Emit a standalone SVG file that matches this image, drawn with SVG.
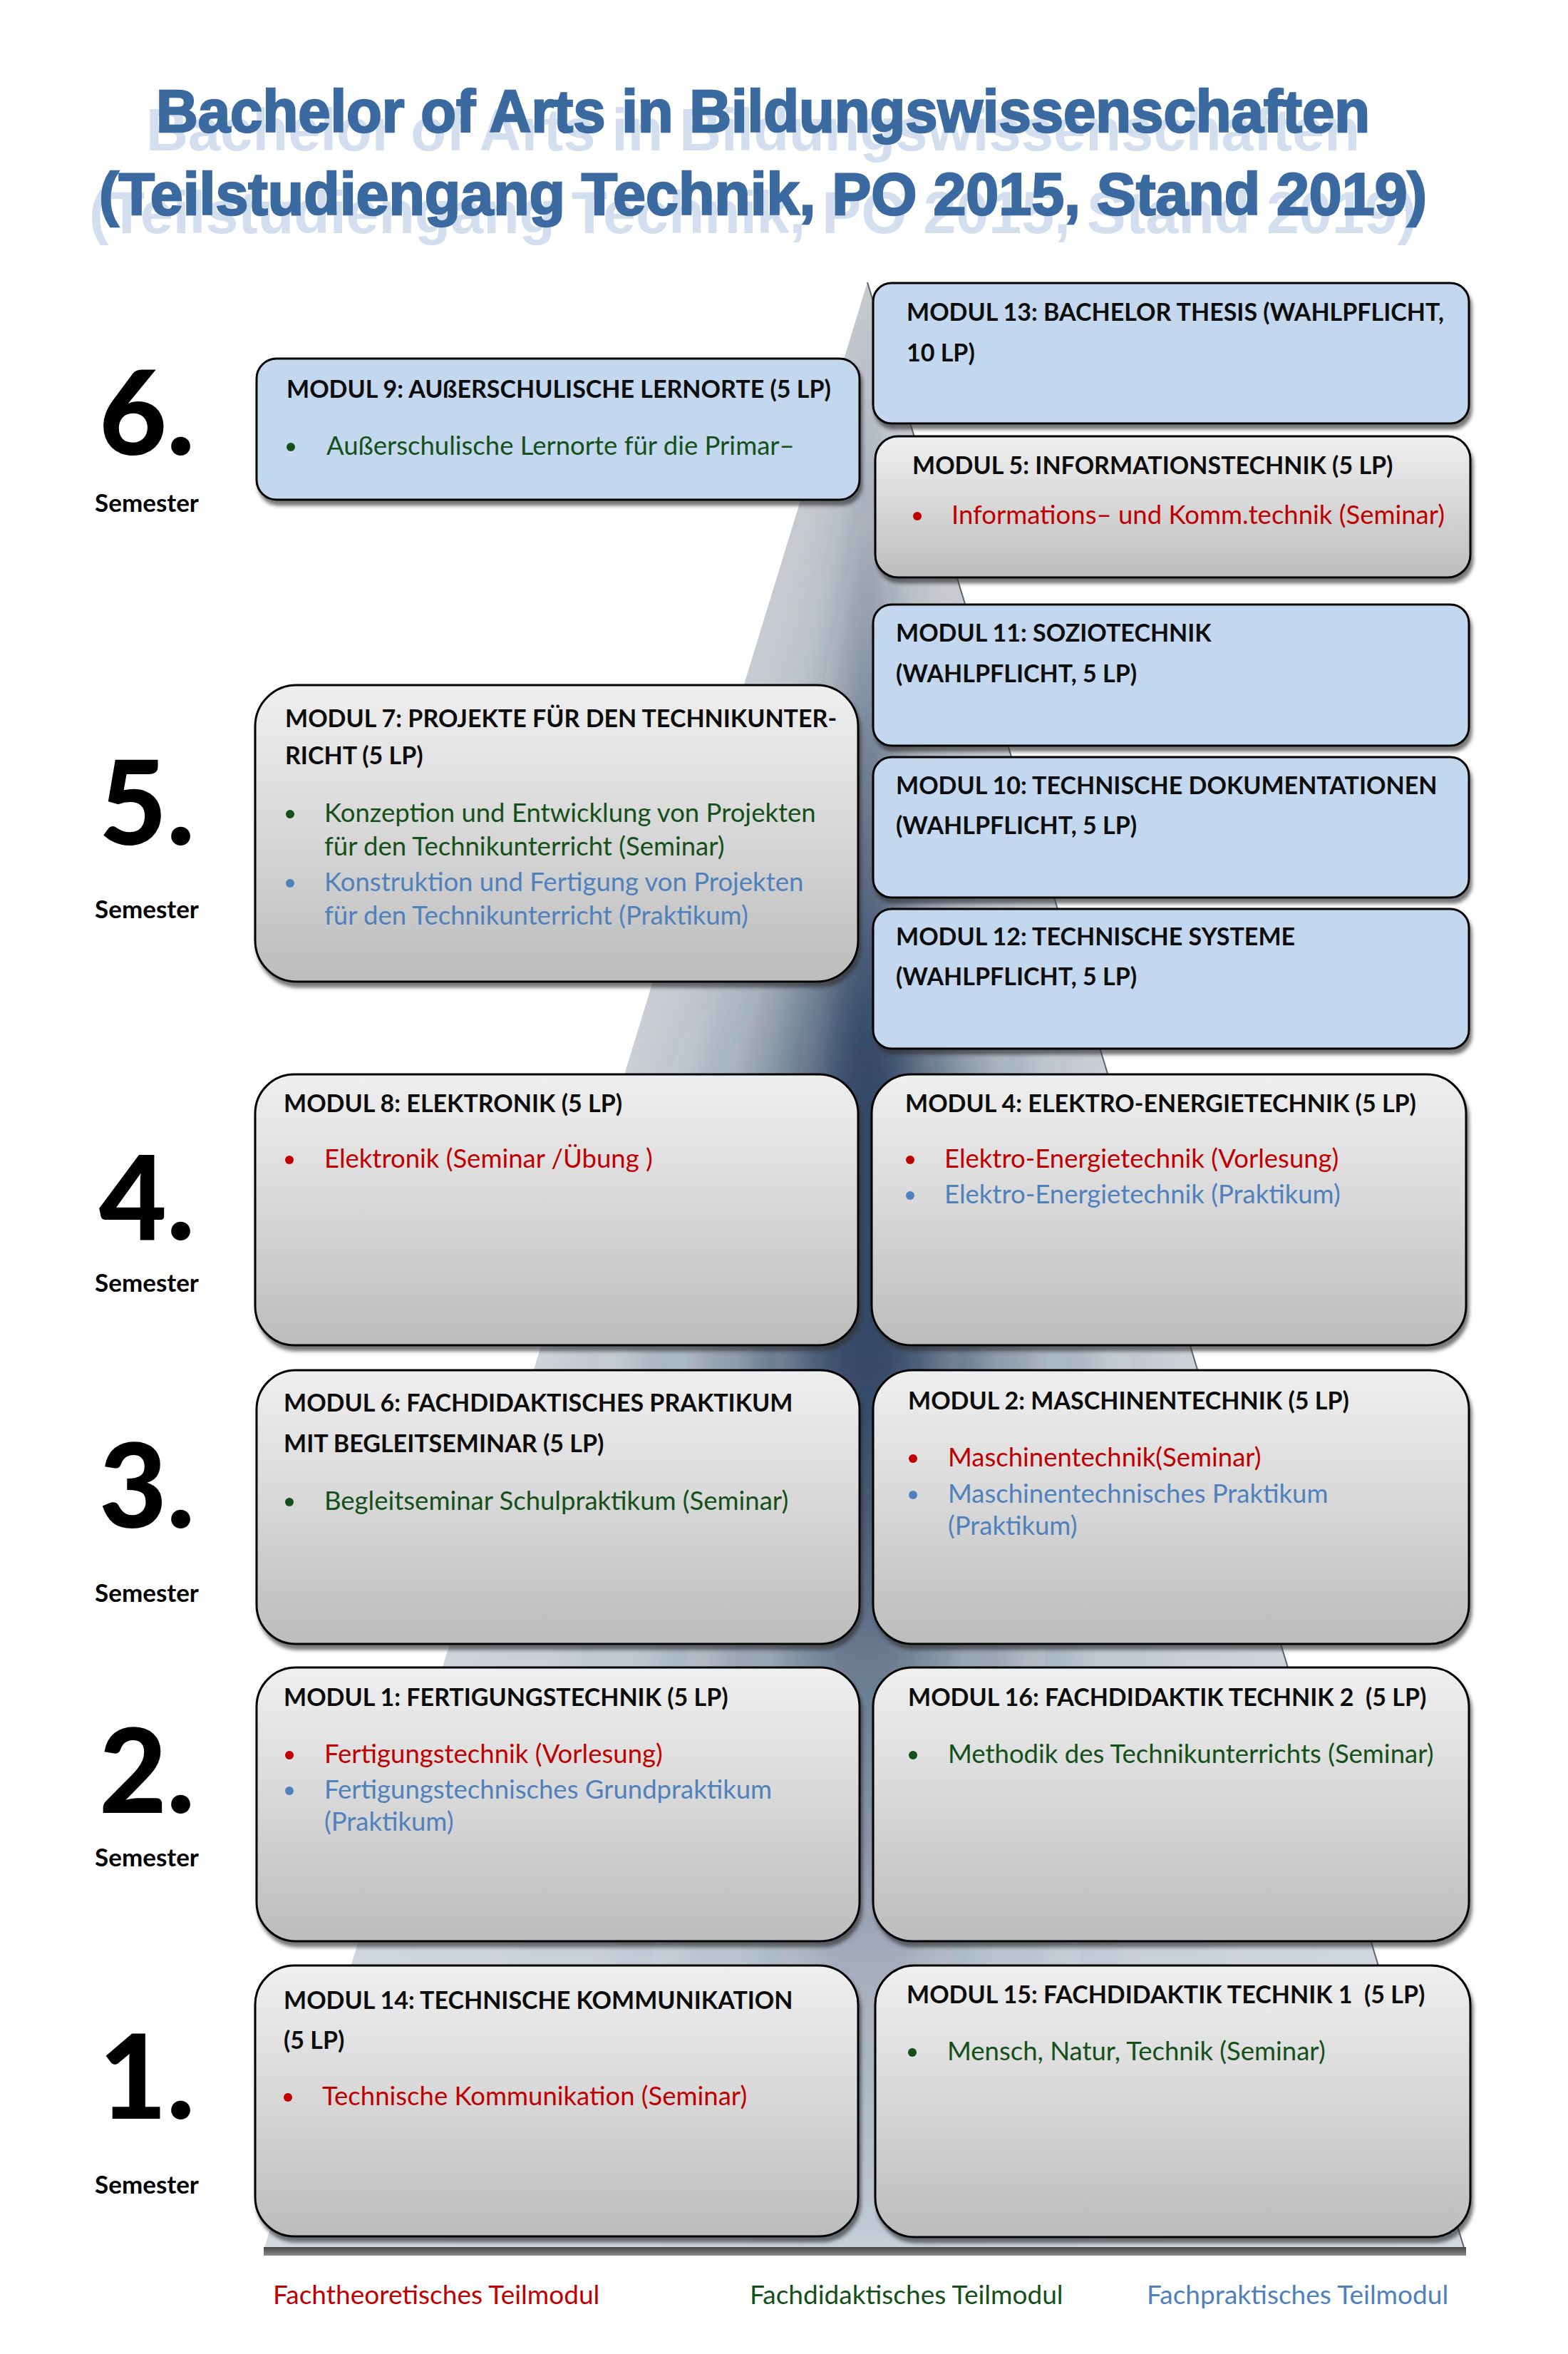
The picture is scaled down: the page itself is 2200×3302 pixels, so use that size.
<svg xmlns="http://www.w3.org/2000/svg" width="2200" height="3302" viewBox="0 0 2200 3302">
<defs>
<style>
.tt{font-family:"Liberation Sans",Arial,sans-serif;font-weight:700;font-size:84px}
.h{font-family:Lato,"Liberation Sans",sans-serif;font-weight:700;font-size:34px;fill:#0d0d0d}
.b{font-family:Lato,"Liberation Sans",sans-serif;font-size:36.5px}
.red{fill:#c00000}.grn{fill:#14501a}.blu{fill:#4f81bd}
.gray{fill:url(#gg);stroke:#000;stroke-width:3;filter:url(#sh)}
.blue{fill:#c3d7ee;stroke:#000;stroke-width:3;filter:url(#sh)}
.num{font-family:Lato,"Liberation Sans",sans-serif;font-weight:900;font-size:164px;text-anchor:middle;fill:#000}
.sem{font-family:Lato,"Liberation Sans",sans-serif;font-weight:700;font-size:35px;text-anchor:middle;fill:#000}
.leg{font-family:Lato,"Liberation Sans",sans-serif;font-size:37px}
</style>
<linearGradient id="gg" x1="0" y1="0" x2="0" y2="1">
<stop offset="0" stop-color="#efefef"/><stop offset="0.5" stop-color="#d7d7d7"/><stop offset="1" stop-color="#bcbcbc"/>
</linearGradient>
<linearGradient id="pbase" gradientUnits="userSpaceOnUse" x1="0" y1="396" x2="0" y2="3158">
<stop offset="0" stop-color="#c6c9ce"/><stop offset="1" stop-color="#d3d9e1"/>
</linearGradient>
<linearGradient id="pv" gradientUnits="userSpaceOnUse" x1="0" y1="396" x2="0" y2="3158">
<stop offset="0" stop-color="#1c3457" stop-opacity="0.03"/>
<stop offset="0.11" stop-color="#1c3457" stop-opacity="0.14"/>
<stop offset="0.2" stop-color="#1c3457" stop-opacity="0.3"/>
<stop offset="0.31" stop-color="#1c3457" stop-opacity="0.6"/>
<stop offset="0.4" stop-color="#1c3457" stop-opacity="1"/>
<stop offset="0.545" stop-color="#1c3457" stop-opacity="1"/>
<stop offset="0.697" stop-color="#1c3457" stop-opacity="0.47"/>
<stop offset="0.849" stop-color="#1c3457" stop-opacity="0.18"/>
<stop offset="1" stop-color="#1c3457" stop-opacity="0.05"/>
</linearGradient>
<linearGradient id="bar" x1="0" y1="0" x2="0" y2="1">
<stop offset="0" stop-color="#444"/><stop offset="1" stop-color="#8a8a8a"/>
</linearGradient>
<clipPath id="pclip"><polygon points="1217,396 2055,3156 370,3156"/></clipPath>
<filter id="blur" x="-20%" y="-10%" width="140%" height="120%"><feGaussianBlur stdDeviation="18"/></filter>
<filter id="sh" x="-5%" y="-5%" width="115%" height="125%"><feDropShadow dx="3" dy="7" stdDeviation="2.5" flood-color="#333" flood-opacity="0.65"/></filter>
</defs>
<rect width="2200" height="3302" fill="#fff"/>

<g id="title">
<g fill="#ccd9ec" opacity="0.85">
<text class="tt" x="205" y="211" textLength="1703" lengthAdjust="spacingAndGlyphs">Bachelor of Arts in Bildungswissenschaften</text>
<text class="tt" x="125" y="327" textLength="1863" lengthAdjust="spacingAndGlyphs">(Teilstudiengang Technik, PO 2015, Stand 2019)</text>
</g>
<g fill="#3b6aa0" stroke="#3b6aa0" stroke-width="2.5">
<text class="tt" x="219" y="185" textLength="1703" lengthAdjust="spacingAndGlyphs">Bachelor of Arts in Bildungswissenschaften</text>
<text class="tt" x="139" y="301" textLength="1863" lengthAdjust="spacingAndGlyphs">(Teilstudiengang Technik, PO 2015, Stand 2019)</text>
</g>
</g>

<g id="pyramid">
<polygon points="1217,396 2055,3156 370,3156" fill="url(#pbase)"/>
<g clip-path="url(#pclip)">
<g filter="url(#blur)" fill="url(#pv)">
<polygon points="1217,396 1968,3156 453,3156" opacity="0.05"/>
<polygon points="1217,396 1802,3156 623,3156" opacity="0.12"/>
<polygon points="1217,396 1636,3156 793,3156" opacity="0.2"/>
<polygon points="1217,396 1510,3156 920,3156" opacity="0.3"/>
<polygon points="1217,396 1385,3156 1047,3156" opacity="0.45"/>
<polygon points="1217,396 1301,3156 1132,3156" opacity="0.5"/>
</g>
</g>
<line x1="1217" y1="396" x2="2055" y2="3156" stroke="#5f646c" stroke-width="2"/>
<rect x="370" y="3152" width="1687" height="12" fill="url(#bar)"/>
</g>

<g id="semesters">
<text class="num" x="206" y="638">6.</text><text class="sem" x="206" y="718">Semester</text>
<text class="num" x="206" y="1185">5.</text><text class="sem" x="206" y="1288">Semester</text>
<text class="num" x="206" y="1739">4.</text><text class="sem" x="206" y="1812">Semester</text>
<text class="num" x="206" y="2143">3.</text><text class="sem" x="206" y="2247">Semester</text>
<text class="num" x="206" y="2543">2.</text><text class="sem" x="206" y="2618">Semester</text>
<text class="num" x="206" y="2972">1.</text><text class="sem" x="206" y="3077">Semester</text>
</g>

<g id="modul-9">
<rect class="blue" x="360" y="503" width="846" height="198" rx="28"/>
<text class="h" x="402" y="558">MODUL 9: AUßERSCHULISCHE LERNORTE (5 LP)</text>
<circle class="grn" cx="408" cy="627" r="6"/>
<text class="b grn" x="458" y="638">Außerschulische Lernorte für die Primar–</text>
</g>

<g id="modul-13">
<rect class="blue" x="1225" y="397" width="836" height="197" rx="26"/>
<text class="h" x="1272" y="450">MODUL 13: BACHELOR THESIS (WAHLPFLICHT,</text>
<text class="h" x="1272" y="507">10 LP)</text>
</g>

<g id="modul-5">
<rect class="gray" x="1228" y="612" width="835" height="198" rx="32"/>
<text class="h" x="1280" y="665">MODUL 5: INFORMATIONSTECHNIK (5 LP)</text>
<circle class="red" cx="1287" cy="724" r="6"/>
<text class="b red" x="1335" y="735">Informations– und Komm.technik (Seminar)</text>
</g>

<g id="modul-11">
<rect class="blue" x="1225" y="848" width="836" height="198" rx="26"/>
<text class="h" x="1257" y="900">MODUL 11: SOZIOTECHNIK</text>
<text class="h" x="1257" y="957">(WAHLPFLICHT, 5 LP)</text>
</g>

<g id="modul-10">
<rect class="blue" x="1225" y="1062" width="836" height="197" rx="26"/>
<text class="h" x="1257" y="1114">MODUL 10: TECHNISCHE DOKUMENTATIONEN</text>
<text class="h" x="1257" y="1170">(WAHLPFLICHT, 5 LP)</text>
</g>

<g id="modul-12">
<rect class="blue" x="1225" y="1275" width="836" height="196" rx="26"/>
<text class="h" x="1257" y="1326">MODUL 12: TECHNISCHE SYSTEME</text>
<text class="h" x="1257" y="1382">(WAHLPFLICHT, 5 LP)</text>
</g>

<g id="modul-7">
<rect class="gray" x="358" y="961" width="846" height="416" rx="58"/>
<text class="h" x="400" y="1020">MODUL 7: PROJEKTE FÜR DEN TECHNIKUNTER-</text>
<text class="h" x="400" y="1072">RICHT (5 LP)</text>
<circle class="grn" cx="407" cy="1142" r="6"/>
<text class="b grn" x="455" y="1153">Konzeption und Entwicklung von Projekten</text>
<text class="b grn" x="455" y="1200">für den Technikunterricht (Seminar)</text>
<circle class="blu" cx="407" cy="1239" r="6"/>
<text class="b blu" x="455" y="1250">Konstruktion und Fertigung von Projekten</text>
<text class="b blu" x="455" y="1297">für den Technikunterricht (Praktikum)</text>
</g>

<g id="modul-8">
<rect class="gray" x="358" y="1507" width="846" height="380" rx="55"/>
<text class="h" x="398" y="1560">MODUL 8: ELEKTRONIK (5 LP)</text>
<circle class="red" cx="406" cy="1627" r="6"/>
<text class="b red" x="455" y="1638" xml:space="preserve">Elektronik (Seminar /Übung )</text>
</g>

<g id="modul-4">
<rect class="gray" x="1223" y="1507" width="834" height="380" rx="55"/>
<text class="h" x="1270" y="1560">MODUL 4: ELEKTRO-ENERGIETECHNIK (5 LP)</text>
<circle class="red" cx="1277" cy="1627" r="6"/>
<text class="b red" x="1325" y="1638">Elektro-Energietechnik (Vorlesung)</text>
<circle class="blu" cx="1277" cy="1677" r="6"/>
<text class="b blu" x="1325" y="1688">Elektro-Energietechnik (Praktikum)</text>
</g>

<g id="modul-6">
<rect class="gray" x="360" y="1922" width="846" height="384" rx="55"/>
<text class="h" x="398" y="1980">MODUL 6: FACHDIDAKTISCHES PRAKTIKUM</text>
<text class="h" x="398" y="2037">MIT BEGLEITSEMINAR (5 LP)</text>
<circle class="grn" cx="406" cy="2107" r="6"/>
<text class="b grn" x="455" y="2118">Begleitseminar Schulpraktikum (Seminar)</text>
</g>

<g id="modul-2">
<rect class="gray" x="1225" y="1922" width="836" height="384" rx="55"/>
<text class="h" x="1274" y="1977">MODUL 2: MASCHINENTECHNIK (5 LP)</text>
<circle class="red" cx="1281" cy="2046" r="6"/>
<text class="b red" x="1330" y="2057">Maschinentechnik(Seminar)</text>
<circle class="blu" cx="1281" cy="2097" r="6"/>
<text class="b blu" x="1330" y="2108">Maschinentechnisches Praktikum</text>
<text class="b blu" x="1330" y="2153">(Praktikum)</text>
</g>

<g id="modul-1">
<rect class="gray" x="360" y="2339" width="846" height="384" rx="55"/>
<text class="h" x="398" y="2393">MODUL 1: FERTIGUNGSTECHNIK (5 LP)</text>
<circle class="red" cx="406" cy="2462" r="6"/>
<text class="b red" x="455" y="2473">Fertigungstechnik (Vorlesung)</text>
<circle class="blu" cx="406" cy="2512" r="6"/>
<text class="b blu" x="455" y="2523">Fertigungstechnisches Grundpraktikum</text>
<text class="b blu" x="455" y="2568">(Praktikum)</text>
</g>

<g id="modul-16">
<rect class="gray" x="1225" y="2339" width="836" height="384" rx="55"/>
<text class="h" x="1274" y="2393" xml:space="preserve">MODUL 16: FACHDIDAKTIK TECHNIK 2  (5 LP)</text>
<circle class="grn" cx="1281" cy="2462" r="6"/>
<text class="b grn" x="1330" y="2473">Methodik des Technikunterrichts (Seminar)</text>
</g>

<g id="modul-14">
<rect class="gray" x="358" y="2757" width="846" height="380" rx="55"/>
<text class="h" x="398" y="2818">MODUL 14: TECHNISCHE KOMMUNIKATION</text>
<text class="h" x="398" y="2874">(5 LP)</text>
<circle class="red" cx="404" cy="2942" r="6"/>
<text class="b red" x="452" y="2953">Technische Kommunikation (Seminar)</text>
</g>

<g id="modul-15">
<rect class="gray" x="1228" y="2757" width="835" height="381" rx="55"/>
<text class="h" x="1272" y="2810" xml:space="preserve">MODUL 15: FACHDIDAKTIK TECHNIK 1  (5 LP)</text>
<circle class="grn" cx="1280" cy="2879" r="6"/>
<text class="b grn" x="1329" y="2890">Mensch, Natur, Technik (Seminar)</text>
</g>

<g id="connectors"/>

<g id="legend">
<text class="leg red" x="383" y="3232">Fachtheoretisches Teilmodul</text>
<text class="leg grn" x="1052" y="3232">Fachdidaktisches Teilmodul</text>
<text class="leg blu" x="1609" y="3232">Fachpraktisches Teilmodul</text>
</g>
</svg>
